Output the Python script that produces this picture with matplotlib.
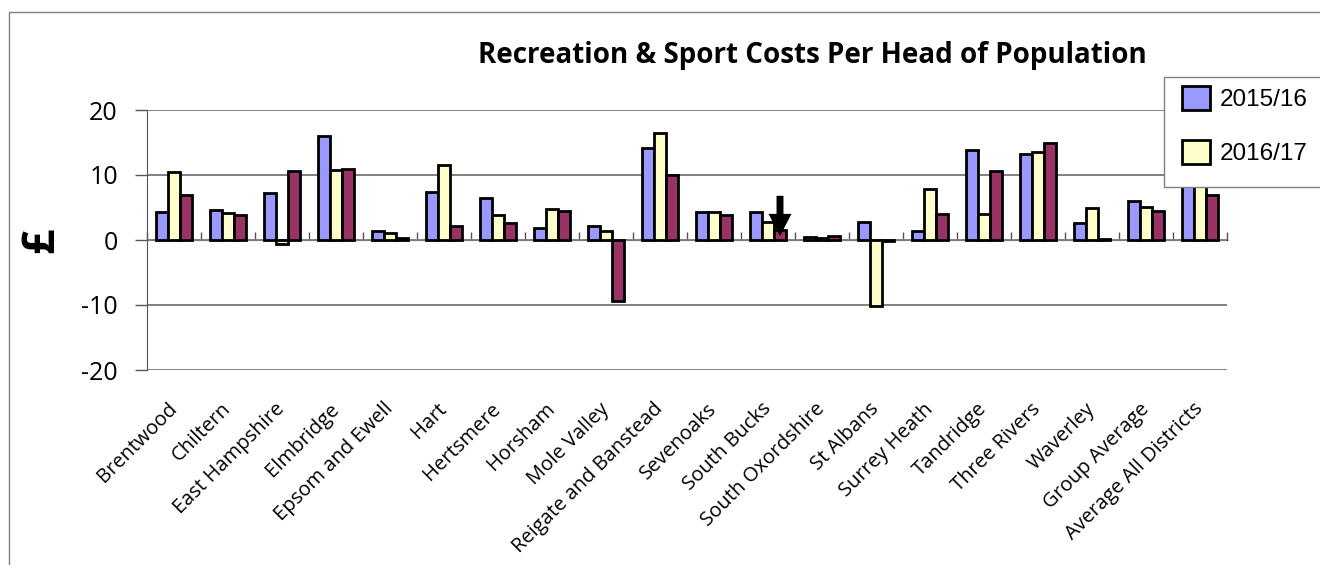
import numpy as np
import matplotlib
matplotlib.use("Agg")
import matplotlib.pyplot as plt
from matplotlib.patches import Rectangle

# data (GBP per head)
districts = ["Brentwood", "Chiltern", "East Hampshire", "Elmbridge", "Epsom and Ewell",
             "Hart", "Hertsmere", "Horsham", "Mole Valley", "Reigate and Banstead",
             "Sevenoaks", "South Bucks", "South Oxordshire", "St Albans", "Surrey Heath",
             "Tandridge", "Three Rivers", "Waverley", "Group Average", "Average All Districts"]
y2015 = [4.3, 4.6, 7.3, 16.0, 1.4, 7.4, 6.5, 1.9, 2.2, 14.2,
         4.3, 4.3, 0.4, 2.7, 1.4, 13.9, 13.2, 2.6, 6.0, 9.8]
y2016 = [10.5, 4.1, -0.6, 10.8, 1.1, 11.5, 3.9, 4.8, 1.4, 16.4,
         4.3, 2.7, 0.3, -10.1, 7.9, 4.0, 13.6, 4.9, 5.1, 8.8]
y2017 = [7.0, 3.9, 10.6, 11.0, 0.3, 2.2, 2.6, 4.5, -9.4, 10.0,
         3.8, 1.5, 0.6, -0.2, 4.0, 10.6, 14.9, 0.15, 4.5, 6.9]
series = ["2015/16", "2016/17", "2017/18"]
colors = ["#9999FF", "#FFFFCC", "#993366"]

W, H = 1320, 565
fig = plt.figure(figsize=(W / 100, H / 100), dpi=100)
ax = fig.add_axes([147 / W, 1 - 370 / H, 1080 / W, 260 / H])

x = np.arange(len(districts))
bw = 0.222
bars = []
for i, (vals, c) in enumerate(zip([y2015, y2016, y2017], colors)):
    b = ax.bar(x + (i - 1) * bw, vals, bw, color=c, edgecolor="black", linewidth=2.0,
               label=series[i], zorder=3)
    bars.append(b)

ax.set_xlim(-0.5, len(districts) - 0.5)
ax.set_ylim(-20, 20)
ax.set_yticks([-20, -10, 0, 10, 20])
ax.set_yticklabels(["-20", "-10", "0", "10", "20"], fontname="Open Sans", fontsize=18)
ax.tick_params(axis="y", direction="out", length=9, width=1, color="#555555", pad=12)
ax.yaxis.grid(True, color="#808080", linewidth=1.4)
ax.set_axisbelow(True)

ax.set_xticks(x)
ax.set_xticklabels(districts, rotation=45, ha="right", va="center", rotation_mode="anchor",
                   fontname="Open Sans", fontsize=14.5)
ax.tick_params(axis="x", length=0, pad=26)

for s in ["top", "right", "bottom"]:
    ax.spines[s].set_visible(False)
ax.spines["left"].set_color("#555555")

# zero line with category-boundary ticks
sec = ax.secondary_xaxis(0.5)
sec.set_xticks(np.arange(len(districts) + 1) - 0.5)
sec.set_xticklabels([])
sec.tick_params(direction="out", length=6, width=1, color="#555555")
sec.spines["bottom"].set_color("#444444")
sec.spines["bottom"].set_linewidth(1.4)

ax.set_ylabel("£", fontname="Open Sans", fontweight="bold", fontsize=32, labelpad=12)

fig.text(812 / W, 1 - 55 / H, "Recreation & Sport Costs Per Head of Population",
         ha="center", va="center", fontname="Open Sans", fontweight="bold", fontsize=20)

# arrow pointing at South Bucks
ax.annotate("", xy=(11 + bw, 0.6), xytext=(11 + bw, 6.8),
            arrowprops=dict(arrowstyle="simple,head_length=1.6,head_width=1.65,tail_width=0.5",
                            mutation_scale=10, fc="black", ec="none", shrinkA=0, shrinkB=0),
            zorder=5)

# legend box (runs off the right edge like the original)
fig.add_artist(Rectangle((1164 / W, 1 - 187 / H), 0.2, 110 / H, transform=fig.transFigure,
                         facecolor="white", edgecolor="#808080", linewidth=1, zorder=4))
leg = fig.legend(handles=bars[:2], labels=series[:2], loc="upper left",
                 bbox_to_anchor=(1172 / W, 1 - 186 / H, 150 / W, 110 / H), mode="expand",
                 prop={"family": "Liberation Sans", "size": 17.5}, handlelength=1.15,
                 handleheight=1.15, labelspacing=1.2, handletextpad=0.4, borderpad=0.4,
                 borderaxespad=0, frameon=False)
leg.set_zorder(5)

fig.add_artist(Rectangle((9 / W, -0.1), 1.2, 1 - 12 / H + 0.1, transform=fig.transFigure,
                         fill=False, edgecolor="#808080", linewidth=1))

fig.savefig("out.png", dpi=100)
